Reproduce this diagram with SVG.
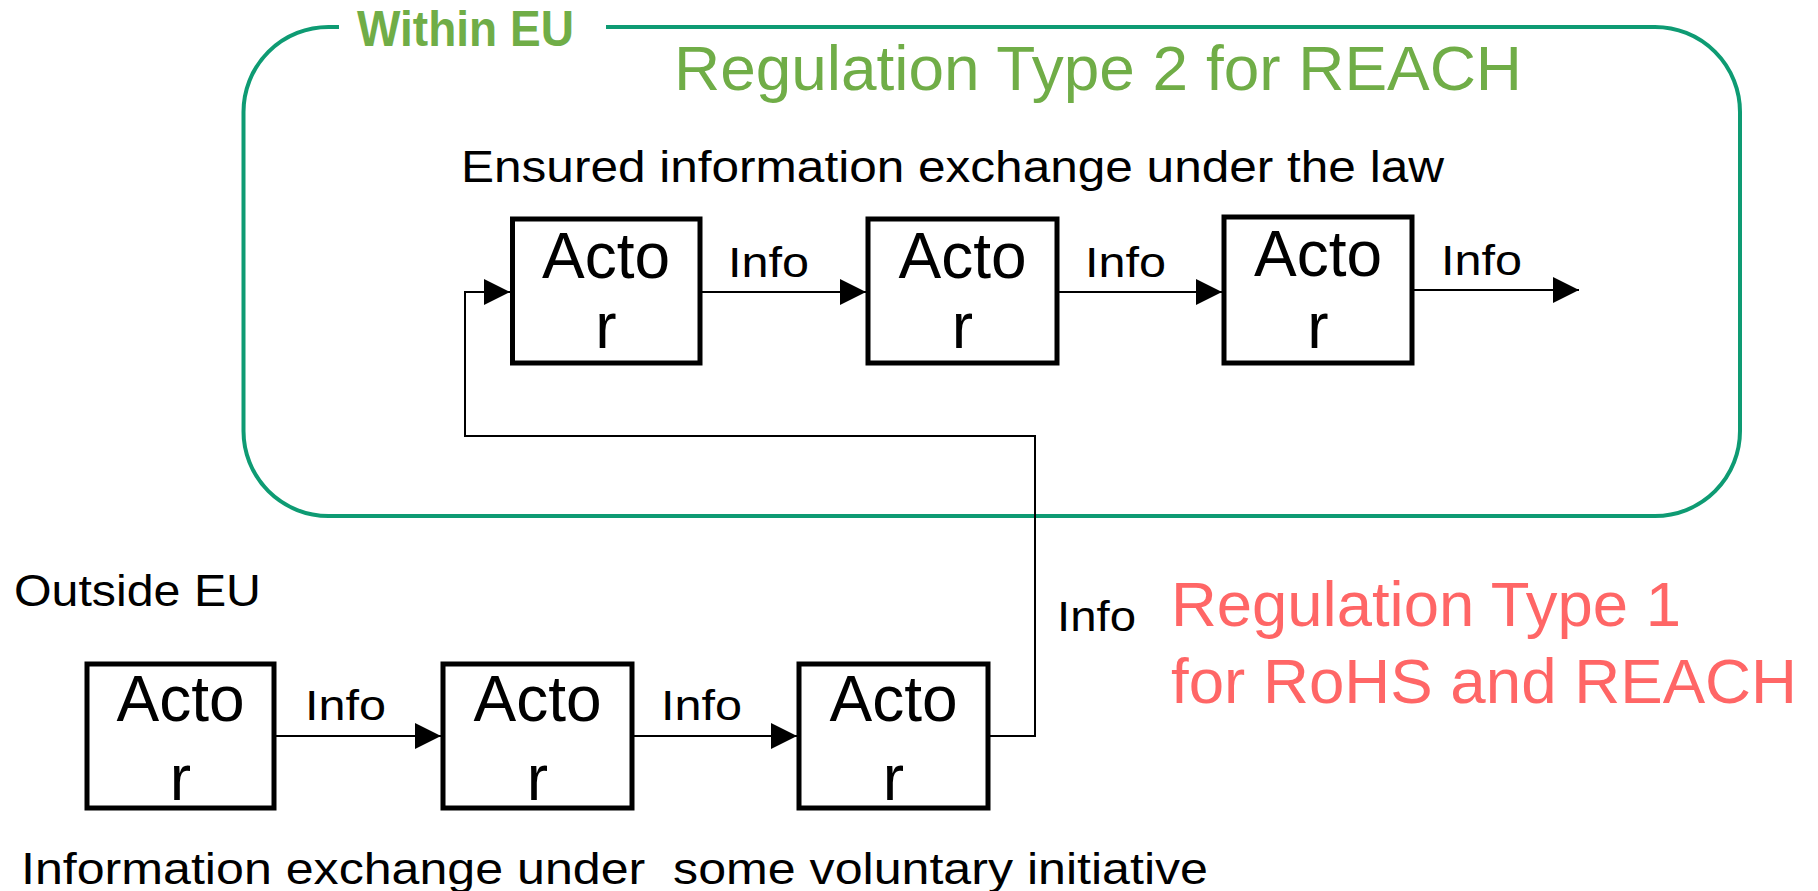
<svg xmlns="http://www.w3.org/2000/svg" width="1818" height="891" viewBox="0 0 1818 891">
<style>
.box{fill:#fff;stroke:#000;stroke-width:5}
.actor{font-family:"Liberation Sans",Arial,sans-serif;font-size:64px;fill:#000;text-anchor:middle}
.info{font-family:"Liberation Sans",Arial,sans-serif;font-size:42px;fill:#000}
.lbl{font-family:"Liberation Sans",Arial,sans-serif;font-size:44px;fill:#000}
.green{font-family:"Liberation Sans",Arial,sans-serif;fill:#70AD47}
.red{font-family:"Liberation Sans",Arial,sans-serif;font-size:63px;fill:#FF6666}
.conn{fill:none;stroke:#000;stroke-width:2}
</style>
<defs>
<marker id="arr" viewBox="0 0 26 26" refX="26" refY="13" markerWidth="26" markerHeight="26" markerUnits="userSpaceOnUse" orient="auto">
<path d="M0,0 L26,13 L0,26 z" fill="#000"/>
</marker>
</defs>
<g id="eu-frame">
<path d="M606,27 H1655 A85,85 0 0 1 1740,112 V431 A85,85 0 0 1 1655,516 H328.5 A85,85 0 0 1 243.5,431 V112 A85,85 0 0 1 328.5,27 H339" fill="none" stroke="#0E9B73" stroke-width="4"/>
<text class="green" x="357" y="46" font-size="50" font-weight="bold" textLength="217" lengthAdjust="spacingAndGlyphs">Within EU</text>
<text class="green" x="674" y="90" font-size="63" textLength="848" lengthAdjust="spacingAndGlyphs">Regulation Type 2 for REACH</text>
<text class="lbl" x="461" y="182" textLength="983" lengthAdjust="spacingAndGlyphs">Ensured information exchange under the law</text>
</g>
<g id="outside-labels">
<text class="lbl" x="14" y="606" textLength="247" lengthAdjust="spacingAndGlyphs">Outside EU</text>
<text class="lbl" x="21" y="884" textLength="1187" lengthAdjust="spacingAndGlyphs" xml:space="preserve">Information exchange under  some voluntary initiative</text>
<text class="red" x="1171" y="626" textLength="510" lengthAdjust="spacingAndGlyphs">Regulation Type 1</text>
<text class="red" x="1171" y="703" textLength="626" lengthAdjust="spacingAndGlyphs">for RoHS and REACH</text>
</g>
<g id="connectors">
<line class="conn" x1="700" y1="292" x2="866" y2="292" marker-end="url(#arr)"/>
<line class="conn" x1="1057" y1="292" x2="1222" y2="292" marker-end="url(#arr)"/>
<line class="conn" x1="1412" y1="290" x2="1579" y2="290" marker-end="url(#arr)"/>
<path class="conn" d="M988,736 H1035 V436 H465 V292 H510" marker-end="url(#arr)"/>
<line class="conn" x1="274" y1="736" x2="441" y2="736" marker-end="url(#arr)"/>
<line class="conn" x1="632" y1="736" x2="797" y2="736" marker-end="url(#arr)"/>
<text class="info" x="728" y="277" textLength="81" lengthAdjust="spacingAndGlyphs">Info</text>
<text class="info" x="1085" y="277" textLength="81" lengthAdjust="spacingAndGlyphs">Info</text>
<text class="info" x="1441" y="275" textLength="81" lengthAdjust="spacingAndGlyphs">Info</text>
<text class="info" x="305" y="720" textLength="81" lengthAdjust="spacingAndGlyphs">Info</text>
<text class="info" x="661" y="720" textLength="81" lengthAdjust="spacingAndGlyphs">Info</text>
<text class="info" x="1057" y="631" textLength="79" lengthAdjust="spacingAndGlyphs">Info</text>
</g>
<g id="actor1"><rect class="box" x="512.5" y="219" width="187.5" height="144"/><text class="actor" x="606" y="278">Acto</text><text class="actor" x="606" y="348">r</text></g>
<g id="actor2"><rect class="box" x="868" y="219" width="189" height="144"/><text class="actor" x="962.5" y="278">Acto</text><text class="actor" x="962.5" y="348">r</text></g>
<g id="actor3"><rect class="box" x="1224" y="217" width="188" height="146"/><text class="actor" x="1318" y="276">Acto</text><text class="actor" x="1318" y="348">r</text></g>
<g id="actor4"><rect class="box" x="87" y="664" width="187" height="144"/><text class="actor" x="180.5" y="721">Acto</text><text class="actor" x="180.5" y="800">r</text></g>
<g id="actor5"><rect class="box" x="443" y="664" width="189" height="144"/><text class="actor" x="537.5" y="721">Acto</text><text class="actor" x="537.5" y="800">r</text></g>
<g id="actor6"><rect class="box" x="799" y="664" width="189" height="144"/><text class="actor" x="893.5" y="721">Acto</text><text class="actor" x="893.5" y="800">r</text></g>
</svg>
